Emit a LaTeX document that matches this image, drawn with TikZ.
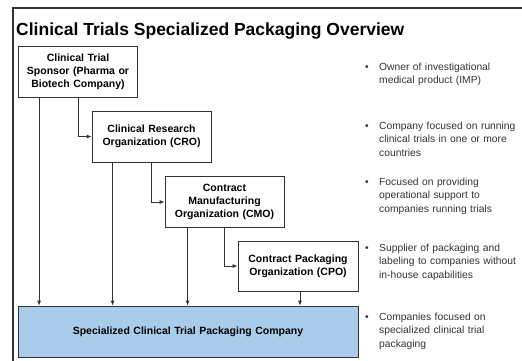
\documentclass[tikz,border=0pt]{standalone}
\usepackage{fontspec}
\setmainfont{Liberation Sans}
\usetikzlibrary{arrows.meta}
\definecolor{boxline}{HTML}{333333}
\definecolor{bluefill}{HTML}{A9CCEB}
\definecolor{bultext}{HTML}{333333}
\tikzset{
  orgbox/.style={draw=boxline, line width=0.8pt, fill=white, minimum width=119pt, minimum height=51pt, inner sep=2pt, align=center, text width=112pt, font=\fontsize{10.5}{13}\selectfont\bfseries},
  arr/.style={draw=boxline, line width=0.8pt, -{Latex[length=5pt,width=4pt]}},
  bultxt/.style={anchor=base west, inner sep=0pt, text width=142pt, align=left, text=bultext, font=\fontsize{10.3}{13.6}\selectfont},
  bulpt/.style={anchor=base, inner sep=0pt, text=bultext, font=\fontsize{10.3}{13.6}\selectfont}
}
\begin{document}
\begin{tikzpicture}[x=1pt,y=-1pt]
\useasboundingbox (0,0) rectangle (522,360);
\draw[boxline, line width=1.4pt] (13,362) -- (13,8) -- (524,8);
\node[anchor=base west, inner sep=0pt, font=\fontsize{17.5}{20}\selectfont\bfseries] (title) at (16,35) {Clinical Trials Specialized Packaging Overview};
\node[orgbox] (b1) at (78,71.5) {Clinical Trial\\Sponsor (Pharma or\\Biotech Company)};
\node[orgbox] (b2) at (151.5,136.5) {Clinical Research\\Organization (CRO)};
\node[orgbox] (b3) at (224.5,202) {Contract\\Manufacturing\\Organization (CMO)};
\node[orgbox, minimum width=120pt, minimum height=50pt] (b4) at (298,266) {Contract Packaging\\Organization (CPO)};
\node[orgbox, fill=bluefill, minimum width=340pt, text width=330pt] (blue) at (188,331.5) {Specialized Clinical Trial Packaging Company};
% connectors
\draw[arr] ([xshift=21pt]b1.south west) -- ([xshift=21pt]b1.south west |- blue.north);
\draw[arr] (b1.south) |- (b2.west);
\draw[arr] ([xshift=21pt]b2.south west) -- ([xshift=21pt]b2.south west |- blue.north);
\draw[arr] (b2.south) |- (b3.west);
\draw[arr] ([xshift=23pt]b3.south west) -- ([xshift=23pt]b3.south west |- blue.north);
\draw[arr] (b3.south) |- (b4.west);
\draw[arr] ([xshift=2pt]b4.south) -- ([xshift=2pt]b4.south |- blue.north);
% bullets
\node[bulpt] (p1) at (367,70) {•};
\node[bultxt] (t1) at (379,70) {Owner of investigational\\medical product (IMP)};
\node[bulpt] (p2) at (367,129) {•};
\node[bultxt] (t2) at (379,129) {Company focused on running\\clinical trials in one or more\\countries};
\node[bulpt] (p3) at (367,185) {•};
\node[bultxt] (t3) at (379,185) {Focused on providing\\operational support to\\companies running trials};
\node[bulpt] (p4) at (367,251) {•};
\node[bultxt] (t4) at (379,251) {Supplier of packaging and\\labeling to companies without\\in-house capabilities};
\node[bulpt] (p5) at (367,320) {•};
\node[bultxt] (t5) at (379,320) {Companies focused on\\specialized clinical trial\\packaging};
\end{tikzpicture}
\end{document}
